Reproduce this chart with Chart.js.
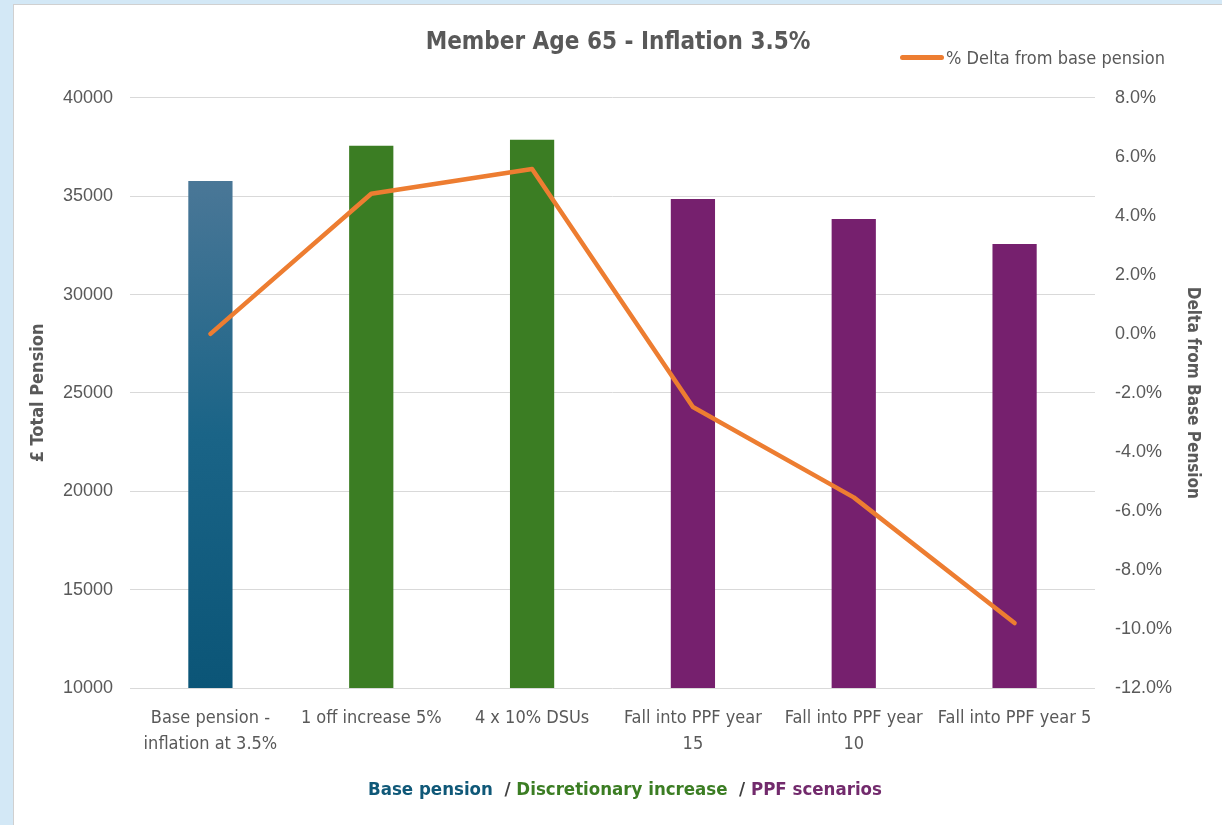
<!DOCTYPE html>
<html>
<head>
<meta charset="utf-8">
<script src="https://cdn.jsdelivr.net/npm/chart.js@4"></script>
<style>
  body { margin: 0; background: #d3e8f6; width: 1222px; height: 825px; overflow: hidden; position: relative; }
  .frame { position: absolute; left: 13px; top: 4px; width: 1220px; height: 830px; background: #fff; border: 1px solid #d0d0d0; }
  .wrap { position: absolute; left: 14px; top: 5px; width: 1208px; height: 820px; }
  .narrow { font-family: "Liberation Sans Narrow", "DejaVu Sans Condensed", "Roboto", sans-serif; }
  #topLegend { position: absolute; left: 900px; top: 47px; font-size: 18px; color: #595959; white-space: nowrap; }
  #topLegend .swatch { display: inline-block; width: 44px; height: 5px; border-radius: 3px; background: #ed7d31; vertical-align: middle; margin-right: 2px; position: relative; top: -2px; }
  #groupLegend { position: absolute; left: 0; width: 1250px; top: 778px; text-align: center; font-size: 18.5px; font-weight: bold; color: #404040; white-space: nowrap; }
</style>
</head>
<body>
<div class="frame"></div>
<div class="wrap"><canvas id="chart" width="1208" height="820"></canvas></div>
<div id="topLegend" class="narrow"><span class="swatch"></span>% Delta from base pension</div>
<div id="groupLegend" class="narrow">
  <span style="color:#0f5878">Base pension</span>&nbsp; / <span style="color:#3b7d23">Discretionary increase</span>&nbsp; / <span style="color:#722a6c">PPF scenarios</span>
</div>
<script>
const categories = [
  ['Base pension -', 'inflation at 3.5%'],
  ['1 off increase 5%'],
  ['4 x 10% DSUs'],
  ['Fall into PPF year', '15'],
  ['Fall into PPF year', '10'],
  ['Fall into PPF year 5'],
];
const totalPension = [35770, 37560, 37870, 34860, 33840, 32570];
const deltaPct = [0.0, 4.75, 5.59, -2.48, -5.54, -9.80];

const narrow = '"Liberation Sans Narrow", "DejaVu Sans Condensed", Roboto, sans-serif';
const plain = '"Liberation Sans", Arial, sans-serif';
const grey = '#595959';

const green = '#3b7d23';
const purple = '#76206e';
const barColors = ['base', green, green, purple, purple, purple];

function barFill(ctx) {
  const c = barColors[ctx.dataIndex];
  if (c !== 'base') return c;
  const chart = ctx.chart;
  if (!chart.chartArea) return '#0b5577';
  const yTop = chart.scales.y.getPixelForValue(totalPension[ctx.dataIndex]);
  const g = chart.ctx.createLinearGradient(0, yTop, 0, chart.chartArea.bottom);
  g.addColorStop(0, '#4a7797');
  g.addColorStop(0.5, '#1a6487');
  g.addColorStop(1, '#0b5577');
  return g;
}

new Chart(document.getElementById('chart'), {
  data: {
    labels: categories,
    datasets: [
      {
        type: 'line',
        label: '% Delta from base pension',
        data: deltaPct,
        yAxisID: 'y1',
        borderColor: '#ed7d31',
        borderWidth: 4.5,
        pointRadius: 0,
        tension: 0,
        borderCapStyle: 'round',
        borderJoinStyle: 'round',
        order: 0,
      },
      {
        type: 'bar',
        label: '£ Total Pension',
        data: totalPension,
        yAxisID: 'y',
        backgroundColor: barFill,
        categoryPercentage: 1,
        barPercentage: 0.275,
        order: 1,
      },
    ],
  },
  options: {
    responsive: false,
    animation: false,
    layout: { padding: 0 },
    plugins: {
      legend: { display: false },
      tooltip: { enabled: false },
      title: {
        display: true,
        text: 'Member Age 65 - Inflation 3.5%',
        color: grey,
        font: { family: narrow, size: 24, weight: 'bold' },
        padding: { top: 23, bottom: 41 },
      },
    },
    scales: {
      x: {
        grid: { display: false, drawTicks: false },
        border: { display: false },
        ticks: { color: grey, font: { family: narrow, size: 18, lineHeight: 1.45 }, padding: 17, maxRotation: 0, autoSkip: false },
        afterFit: s => { s.height = 137; },
      },
      y: {
        position: 'left',
        min: 10000,
        max: 40000,
        ticks: { stepSize: 5000, color: grey, font: { family: plain, size: 18 }, padding: 17, callback: v => String(v) },
        grid: { color: '#d9d9d9', lineWidth: 1, drawTicks: false },
        border: { display: false },
        title: { display: true, text: '£ Total Pension', color: grey, font: { family: narrow, size: 18, weight: 'bold' }, padding: { top: 14 } },
        afterFit: s => { s.width = 116; },
      },
      y1: {
        position: 'right',
        min: -12,
        max: 8,
        ticks: { stepSize: 2, color: grey, font: { family: plain, size: 18 }, padding: 20, callback: v => v.toFixed(1) + '%' },
        grid: { display: false, drawTicks: false },
        border: { display: false },
        title: { display: true, text: 'Delta from Base Pension', color: grey, font: { family: narrow, size: 17, weight: 'bold' }, padding: { top: 19 } },
        afterFit: s => { s.width = 127; },
      },
    },
  },
});
</script>
</body>
</html>
